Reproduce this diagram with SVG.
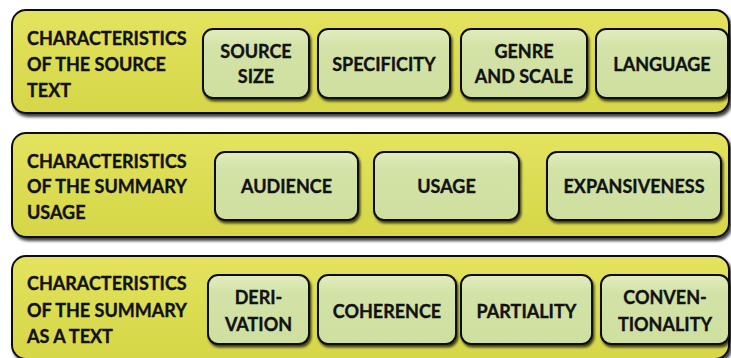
<svg xmlns="http://www.w3.org/2000/svg" width="731" height="358" viewBox="0 0 731 358">
<defs>
<linearGradient id="pg" x1="0" y1="0" x2="0" y2="1">
<stop offset="0" stop-color="#e3e35f"/>
<stop offset="1" stop-color="#d6d648"/>
</linearGradient>
<linearGradient id="bg" x1="0" y1="0" x2="0" y2="1">
<stop offset="0" stop-color="#e2edc0"/>
<stop offset="0.25" stop-color="#d3e3a7"/>
<stop offset="1" stop-color="#cedf9f"/>
</linearGradient>
<filter id="ps" x="-5%" y="-10%" width="110%" height="125%">
<feDropShadow dx="2" dy="3" stdDeviation="1.5" flood-color="#000" flood-opacity="0.75"/>
</filter>
<filter id="bs" x="-10%" y="-10%" width="120%" height="130%">
<feDropShadow dx="1.5" dy="2.5" stdDeviation="1.2" flood-color="#000" flood-opacity="0.7"/>
</filter>
</defs>
<style>
.panel{fill:url(#pg);stroke:#111;stroke-width:2;filter:url(#ps)}
.box{fill:url(#bg);stroke:#111;stroke-width:2;filter:url(#bs)}
text{font-family:Lato,"Liberation Sans",sans-serif;font-weight:bold;font-size:18px;fill:#111;stroke:#111;stroke-width:0.35}
.c{text-anchor:middle}
</style>
<rect width="731" height="358" fill="#fff"/>

<g id="panel1">
<rect class="panel" x="12" y="10" width="717" height="103" rx="14"/>
<text x="27" y="45">CHARACTERISTICS</text>
<text x="27" y="71">OF THE SOURCE</text>
<text x="27" y="97">TEXT</text>
</g>
<g id="source-size">
<rect class="box" x="203" y="29" width="106" height="69" rx="10"/>
<text class="c" x="256" y="58">SOURCE</text>
<text class="c" x="256" y="83">SIZE</text>
</g>
<g id="specificity">
<rect class="box" x="318" y="29" width="132" height="69" rx="10"/>
<text class="c" x="384" y="71">SPECIFICITY</text>
</g>
<g id="genre-scale">
<rect class="box" x="461" y="29" width="126" height="69" rx="10"/>
<text class="c" x="524" y="58">GENRE</text>
<text class="c" x="524" y="83">AND SCALE</text>
</g>
<g id="language">
<rect class="box" x="596" y="29" width="132" height="69" rx="10"/>
<text class="c" x="662" y="71">LANGUAGE</text>
</g>

<g id="panel2">
<rect class="panel" x="12" y="133" width="717" height="104" rx="14"/>
<text x="27" y="168">CHARACTERISTICS</text>
<text x="27" y="193">OF THE SUMMARY</text>
<text x="27" y="219">USAGE</text>
</g>
<g id="audience">
<rect class="box" x="215" y="152" width="143" height="68" rx="10"/>
<text class="c" x="286.5" y="193">AUDIENCE</text>
</g>
<g id="usage">
<rect class="box" x="374" y="152" width="145" height="68" rx="10"/>
<text class="c" x="446.5" y="193">USAGE</text>
</g>
<g id="expansiveness">
<rect class="box" x="547" y="152" width="174" height="68" rx="10"/>
<text class="c" x="634" y="193">EXPANSIVENESS</text>
</g>

<g id="panel3">
<rect class="panel" x="12" y="256" width="717" height="103" rx="14"/>
<text x="27" y="290">CHARACTERISTICS</text>
<text x="27" y="317">OF THE SUMMARY</text>
<text x="27" y="343">AS A TEXT</text>
</g>
<g id="derivation">
<rect class="box" x="208" y="275" width="101" height="69" rx="10"/>
<text class="c" x="258.5" y="304">DERI-</text>
<text class="c" x="258.5" y="331">VATION</text>
</g>
<g id="coherence">
<rect class="box" x="318" y="275" width="138" height="69" rx="10"/>
<text class="c" x="387" y="318">COHERENCE</text>
</g>
<g id="partiality">
<rect class="box" x="461" y="275" width="131" height="69" rx="10"/>
<text class="c" x="526.5" y="318">PARTIALITY</text>
</g>
<g id="conventionality">
<rect class="box" x="601" y="275" width="128" height="69" rx="10"/>
<text class="c" x="665" y="304">CONVEN-</text>
<text class="c" x="665" y="331">TIONALITY</text>
</g>
<g id="connectors"/>
</svg>
